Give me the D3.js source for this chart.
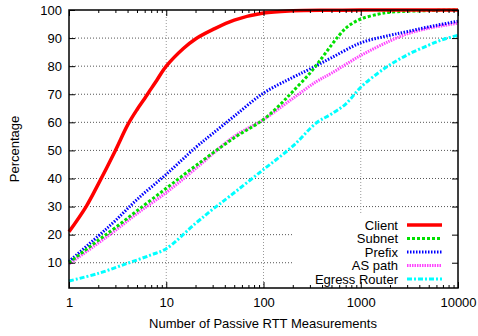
<!DOCTYPE html>
<html>
<head>
<meta charset="utf-8">
<script src="https://cdn.jsdelivr.net/npm/d3@7"></script>
<style>
  body { margin: 0; background: #fff; }
  text { font-family: "Liberation Sans", Arial, sans-serif; }
</style>
</head>
<body>
<svg id="chart"></svg>
<script>
const width = 478;
const height = 336;
const margin = { left: 69, right: 20, top: 10, bottom: 48 };

const xTicks = [1, 10, 100, 1000, 10000];
const yTicks = [10, 20, 30, 40, 50, 60, 70, 80, 90, 100];

// series: [measurements, percentage]
const client = [[1, 21], [1.5, 30], [2, 38], [3, 50], [4, 59], [5, 64.5], [6, 68.5], [7, 72], [8, 75], [10, 80], [15, 86.3], [20, 89.7], [30, 93], [50, 96.4], [100, 98.9], [200, 99.7], [500, 99.9], [1000, 100], [10000, 100]];
const subnet = [[1, 10], [2, 18], [3, 22.5], [5, 28.5], [10, 36.5], [20, 44.5], [50, 54.5], [100, 61], [150, 66.5], [200, 71], [300, 77.5], [400, 83], [500, 87.5], [600, 91], [700, 93.5], [800, 95], [1000, 96.8], [1500, 98.5], [2000, 99.2], [5000, 99.8], [10000, 100]];
const prefix = [[1, 10.5], [2, 19.5], [3, 25], [5, 32.5], [10, 41.5], [20, 51], [30, 56], [50, 62.2], [100, 70.4], [200, 76], [300, 79], [500, 83], [1000, 88.3], [2000, 91], [3000, 92.3], [5000, 94], [10000, 96]];
const asPath = [[1, 9.5], [2, 17], [3, 21.5], [5, 27.5], [10, 35], [20, 43.5], [50, 55], [100, 61], [200, 68.5], [350, 74.5], [500, 77.5], [1000, 83.8], [2000, 89], [3000, 91.5], [5000, 93.5], [10000, 95.3]];
const egress = [[1, 3.5], [2, 6.2], [4, 9.8], [7, 12.8], [10, 15], [20, 24], [30, 29], [45, 33.7], [100, 43.2], [200, 51.5], [350, 59.8], [500, 63], [700, 66.5], [1000, 72.5], [1500, 77.5], [2000, 80.5], [3000, 84], [5000, 87.5], [7000, 89.5], [10000, 91]];

const series = [
  { name: "Client", data: client, color: "#ff0000", w: 3.5, dash: null },
  { name: "Subnet", data: subnet, color: "#00e000", w: 3, dash: "3,2" },
  { name: "Prefix", data: prefix, color: "#0000ff", w: 3, dash: "1.5,1.5" },
  { name: "AS path", data: asPath, color: "#ff44ff", w: 3, dash: "1.5,1" },
  { name: "Egress Router", data: egress, color: "#00ffff", w: 3, dash: "5,2,2,2" }
];

const svg = d3.select("#chart")
    .attr("width", width)
    .attr("height", height);

const x = d3.scaleLog()
    .domain([1, 10000])
    .range([margin.left, width - margin.right]);

const y = d3.scaleLinear()
    .domain([1, 100])
    .range([height - margin.bottom, margin.top]);

const x0 = x.range()[0], x1 = x.range()[1];
const y0 = y.range()[0], y1 = y.range()[1];

// grid
svg.append("g")
    .selectAll("line")
    .data(yTicks.slice(0, -1))
    .join("line")
    .attr("x1", x0).attr("x2", x1)
    .attr("y1", d => y(d)).attr("y2", d => y(d))
    .attr("stroke", "#555")
    .attr("stroke-width", 1)
    .attr("stroke-dasharray", "1,2");

svg.append("g")
    .selectAll("line")
    .data(xTicks.slice(1, -1))
    .join("line")
    .attr("x1", d => x(d)).attr("x2", d => x(d))
    .attr("y1", y0).attr("y2", y1)
    .attr("stroke", "#999")
    .attr("stroke-width", 1)
    .attr("stroke-dasharray", "1,2");

// legend background covers the grid
svg.append("rect")
    .attr("x", 293).attr("y", 213)
    .attr("width", x1 - 293).attr("height", y0 - 213)
    .attr("fill", "#fff");

// curves
const line = d3.line()
    .x(d => x(d[0]))
    .y(d => y(d[1]))
    .curve(d3.curveCatmullRom.alpha(0.5));

svg.append("g")
    .selectAll("path")
    .data(series.slice().reverse())
    .join("path")
    .attr("d", d => line(d.data))
    .attr("fill", "none")
    .attr("stroke", d => d.color)
    .attr("stroke-width", d => d.w)
    .attr("stroke-dasharray", d => d.dash);

// ticks (inward, gnuplot style)
const minor = [];
for (let p = 1; p < 10000; p *= 10) {
  for (let k = 2; k <= 9; k++) minor.push(p * k);
}

svg.append("g")
    .attr("transform", `translate(0,${y0})`)
    .call(d3.axisBottom(x).tickValues(xTicks).tickSize(-6).tickPadding(10).tickFormat(d3.format("d")))
    .call(g => g.select(".domain").remove());
svg.append("g")
    .attr("transform", `translate(0,${y0})`)
    .call(d3.axisBottom(x).tickValues(minor).tickSize(-3).tickFormat(""))
    .call(g => g.select(".domain").remove());
svg.append("g")
    .attr("transform", `translate(0,${y1})`)
    .call(d3.axisTop(x).tickValues(xTicks).tickSize(-6).tickFormat(""))
    .call(g => g.select(".domain").remove());
svg.append("g")
    .attr("transform", `translate(0,${y1})`)
    .call(d3.axisTop(x).tickValues(minor).tickSize(-3).tickFormat(""))
    .call(g => g.select(".domain").remove());

svg.append("g")
    .attr("transform", `translate(${x0},0)`)
    .call(d3.axisLeft(y).tickValues(yTicks).tickSize(-6).tickPadding(7))
    .call(g => g.select(".domain").remove());
svg.append("g")
    .attr("transform", `translate(${x1},0)`)
    .call(d3.axisRight(y).tickValues(yTicks).tickSize(-6).tickFormat(""))
    .call(g => g.select(".domain").remove());

svg.selectAll(".tick text")
    .attr("font-size", 13)
    .attr("fill", "#000")
    .attr("font-family", "Liberation Sans, Arial, sans-serif");
svg.selectAll(".tick line").attr("stroke", "#000");

// border
svg.append("rect")
    .attr("x", x0).attr("y", y1)
    .attr("width", x1 - x0).attr("height", y0 - y1)
    .attr("fill", "none")
    .attr("stroke", "#000")
    .attr("stroke-width", 1.5);

// axis labels
svg.append("text")
    .attr("x", 263)
    .attr("y", 328)
    .attr("text-anchor", "middle")
    .attr("font-size", 13)
    .text("Number of Passive RTT Measurements");

svg.append("text")
    .attr("transform", `translate(19,${(y0 + y1) / 2}) rotate(-90)`)
    .attr("text-anchor", "middle")
    .attr("font-size", 13)
    .text("Percentage");

// legend
const legend = svg.append("g")
    .selectAll("g")
    .data(series)
    .join("g")
    .attr("transform", (_, i) => `translate(0,${225 + i * 13.5})`);

legend.append("text")
    .attr("x", 398)
    .attr("y", 4.5)
    .attr("text-anchor", "end")
    .attr("font-size", 13)
    .text(d => d.name);

legend.append("line")
    .attr("x1", 407).attr("x2", 442)
    .attr("stroke", d => d.color)
    .attr("stroke-width", d => d.w)
    .attr("stroke-dasharray", d => d.dash);
</script>
</body>
</html>
